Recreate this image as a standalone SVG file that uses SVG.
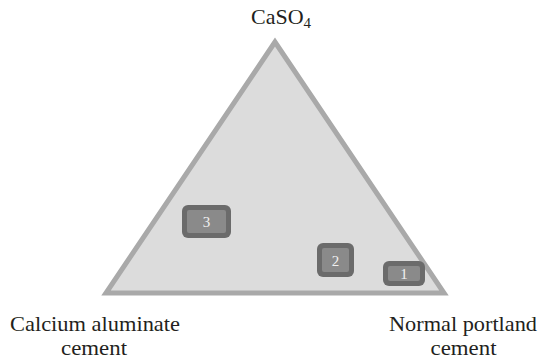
<svg xmlns="http://www.w3.org/2000/svg" width="539" height="361" viewBox="0 0 539 361">
  <style>
    .lbl { font-family: "Liberation Serif", "DejaVu Serif", serif; font-size: 22px; fill: #231f20; text-anchor: middle; }
    .box-outer { fill: #6b6b6b; }
    .box-inner { fill: #8a8a8a; }
    .num { font-family: "Liberation Serif", "DejaVu Serif", serif; font-size: 15px; fill: #f0f0f0; text-anchor: middle; }
  </style>
  <rect width="539" height="361" fill="#ffffff"/>

  <!-- ternary triangle -->
  <g id="triangle">
    <polygon points="275,42 106,293 444,293" fill="#dcdcdc" stroke="#a9a9a9" stroke-width="5" stroke-linejoin="miter"/>
  </g>

  <!-- vertex labels -->
  <g id="label-caso4">
    <text class="lbl" x="281" y="24">CaSO<tspan font-size="15" dy="4">4</tspan></text>
  </g>
  <g id="label-cac">
    <text class="lbl" x="95" y="331" textLength="170" lengthAdjust="spacingAndGlyphs">Calcium aluminate</text>
    <text class="lbl" x="94" y="355" textLength="66" lengthAdjust="spacingAndGlyphs">cement</text>
  </g>
  <g id="label-opc">
    <text class="lbl" x="463" y="331" textLength="148" lengthAdjust="spacingAndGlyphs">Normal portland</text>
    <text class="lbl" x="463.5" y="355" textLength="66" lengthAdjust="spacingAndGlyphs">cement</text>
  </g>

  <!-- numbered regions -->
  <g id="box-3">
    <rect class="box-outer" x="182" y="205" width="49" height="33" rx="6"/>
    <rect class="box-inner" x="187" y="210" width="39" height="23" rx="2"/>
    <text class="num" x="206.5" y="227">3</text>
  </g>
  <g id="box-2">
    <rect class="box-outer" x="317" y="243" width="37" height="34" rx="6"/>
    <rect class="box-inner" x="322" y="248" width="27" height="24" rx="2"/>
    <text class="num" x="335.5" y="265.5">2</text>
  </g>
  <g id="box-1">
    <rect class="box-outer" x="383" y="261" width="42" height="25" rx="6"/>
    <rect class="box-inner" x="388" y="266" width="32" height="15" rx="2"/>
    <text class="num" x="404" y="278.5">1</text>
  </g>

  <g id="connectors"></g>
</svg>
